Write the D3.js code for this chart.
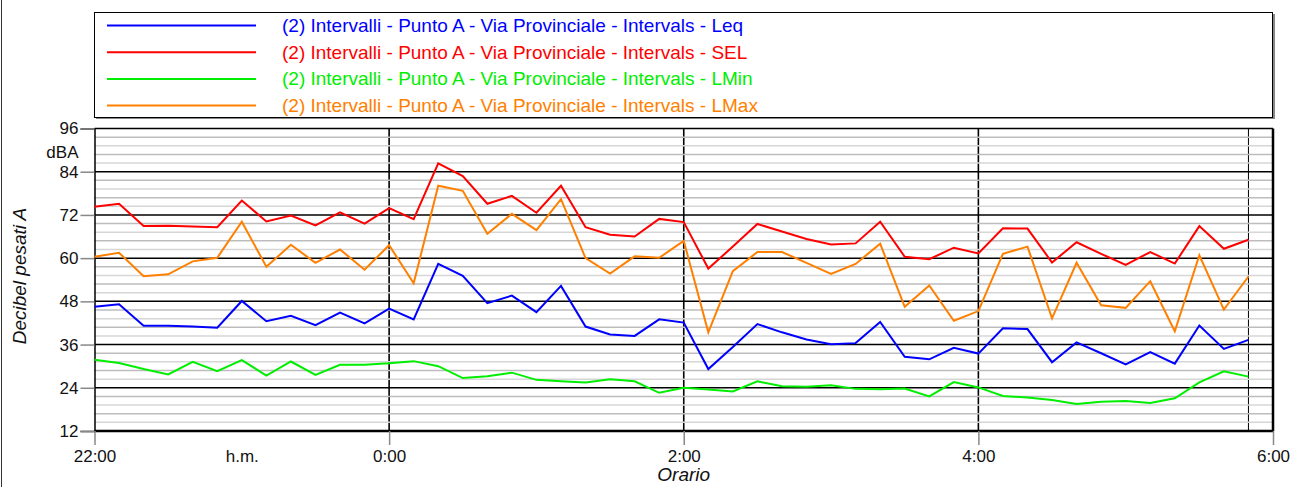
<!DOCTYPE html>
<html>
<head>
<meta charset="utf-8">
<script src="https://cdn.jsdelivr.net/npm/d3@7"></script>
<style>
  body { margin: 0; background: #fff; }
  svg { display: block; font-family: "Liberation Sans", Arial, sans-serif; }
</style>
</head>
<body>
<svg id="chart" width="1292" height="487"></svg>
<script>
// 10-minute intervals from 22:00 to 5:50
var startTime = new Date(2020, 0, 1, 22, 0);
var endTime = new Date(2020, 0, 2, 6, 0);
var stepMinutes = 10;

var seriesNames = [
  '(2) Intervalli - Punto A - Via Provinciale - Intervals - Leq',
  '(2) Intervalli - Punto A - Via Provinciale - Intervals - SEL',
  '(2) Intervalli - Punto A - Via Provinciale - Intervals - LMin',
  '(2) Intervalli - Punto A - Via Provinciale - Intervals - LMax'
];
var seriesColors = ['#0000ff', '#ff0000', '#00ee00', '#ff8000'];

var leq = [46.5, 47.2, 41.2, 41.2, 41.0, 40.7, 48.1, 42.5, 44.0, 41.4, 44.9, 41.9,
  46.0, 43.0, 58.4, 55.1, 47.5, 49.6, 45.0, 52.3, 41.0, 38.8, 38.4, 43.0,
  42.1, 29.2, 35.3, 41.7, 39.4, 37.4, 36.1, 36.4, 42.3, 32.6, 31.9, 35.1,
  33.5, 40.5, 40.3, 31.1, 36.6, 33.6, 30.5, 33.9, 30.7, 41.3, 34.8, 37.3];
var sel = [74.3, 75.1, 68.9, 69.0, 68.8, 68.6, 76.0, 70.2, 71.8, 69.1, 72.7, 69.6,
  73.9, 70.8, 86.3, 82.8, 75.1, 77.3, 72.6, 80.1, 68.6, 66.5, 66.0, 70.9,
  70.0, 57.1, 63.2, 69.5, 67.4, 65.3, 63.8, 64.1, 70.1, 60.4, 59.7, 62.9,
  61.3, 68.3, 68.2, 58.8, 64.4, 61.2, 58.1, 61.7, 58.5, 68.9, 62.6, 65.1];
var lmin = [31.8, 30.9, 29.2, 27.7, 31.2, 28.6, 31.7, 27.4, 31.3, 27.6, 30.4, 30.4,
  30.8, 31.4, 30.0, 26.7, 27.2, 28.2, 26.2, 25.8, 25.5, 26.4, 25.8, 22.6,
  24.0, 23.5, 23.0, 25.8, 24.4, 24.3, 24.7, 23.7, 23.6, 23.8, 21.6, 25.6,
  24.1, 21.7, 21.3, 20.6, 19.5, 20.1, 20.3, 19.8, 21.1, 25.5, 28.6, 27.1];
var lmax = [60.4, 61.5, 55.0, 55.5, 59.1, 60.1, 70.1, 57.6, 63.7, 58.7, 62.4, 56.8,
  63.6, 53.0, 80.1, 78.7, 66.8, 72.3, 67.8, 76.4, 60.0, 55.7, 60.5, 60.1,
  64.8, 39.4, 56.4, 61.7, 61.7, 58.7, 55.6, 58.4, 64.0, 46.5, 52.4, 42.6,
  45.3, 61.2, 63.2, 43.3, 58.7, 46.9, 46.2, 53.6, 39.7, 60.8, 45.7, 54.9];

var yMajorTicks = [12, 24, 36, 48, 60, 72, 84, 96];
var xLabelTimes = ['22:00', 'h.m.', '0:00', '2:00', '4:00', '6:00'];
var xLabelHours = [0, 1, 2, 4, 6, 8]; // hours after 22:00
var xGridHours = [2, 4, 6];

var svg = d3.select('#chart');
var margin = { top: 128.5, right: 19, bottom: 56, left: 94.5 };
var width = 1292 - margin.left - margin.right;
var height = 487 - margin.top - margin.bottom;

var x = d3.scaleTime().domain([startTime, endTime]).range([0, width]);
var y = d3.scaleLinear().domain([12, 96]).range([height, 0]);

function hourDate(h) { return new Date(startTime.getTime() + h * 3600000); }
function pointDate(i) { return new Date(startTime.getTime() + i * stepMinutes * 60000); }

// outer left frame line
svg.append('line').attr('x1', 1.5).attr('x2', 1.5).attr('y1', 0).attr('y2', 487)
  .style('stroke', '#333').style('stroke-width', 1);

// legend
var legend = svg.append('g');
legend.append('rect').attr('x', 96).attr('y', 14).attr('width', 1179).attr('height', 105)
  .style('fill', '#888');
legend.append('rect').attr('x', 94.5).attr('y', 12.5).attr('width', 1178).attr('height', 105)
  .style('fill', '#fff').style('stroke', '#000').style('stroke-width', 1);
seriesNames.forEach(function (name, i) {
  var ly = 25.5 + i * 26.7;
  legend.append('line').attr('x1', 107).attr('x2', 256).attr('y1', ly).attr('y2', ly)
    .style('stroke', seriesColors[i]).style('stroke-width', 2);
  legend.append('text').attr('x', 282).attr('y', ly + 6.5).text(name)
    .style('fill', seriesColors[i]).style('font-size', '19px');
});

var g = svg.append('g').attr('transform', 'translate(' + margin.left + ',' + margin.top + ')');

// vertical grid lines (under minor grid)
g.selectAll('.vgrid').data(xGridHours).enter().append('line')
  .attr('x1', d => x(hourDate(d))).attr('x2', d => x(hourDate(d)))
  .attr('y1', 0).attr('y2', height)
  .style('stroke', '#000').style('stroke-width', 1.6);

// last sample line
var lastIdx = leq.length - 1;
g.append('line').attr('x1', x(pointDate(lastIdx))).attr('x2', x(pointDate(lastIdx)))
  .attr('y1', 0).attr('y2', height).style('stroke', '#000').style('stroke-width', 1);

// minor grid every 2.4 dB
var minor = d3.range(12, 96.01, 2.4).filter(v => yMajorTicks.indexOf(Math.round(v * 10) / 10) < 0);
g.selectAll('.minor').data(minor).enter().append('line')
  .attr('x1', 0).attr('x2', width).attr('y1', d => y(d)).attr('y2', d => y(d))
  .style('stroke', (d, i) => i % 2 ? '#bdbdbd' : '#d6d6d6').style('stroke-width', 1.5);

// major grid
g.selectAll('.major').data(yMajorTicks).enter().append('line')
  .attr('x1', 0).attr('x2', width).attr('y1', d => y(d)).attr('y2', d => y(d))
  .style('stroke', '#000').style('stroke-width', d => d == 12 ? 2.5 : 1.5);

// left axis
var yAxis = g.append('g').call(d3.axisLeft(y).tickValues(yMajorTicks).tickSize(14).tickPadding(2));
yAxis.select('.domain').style('stroke', '#000').style('stroke-width', 1.5);
yAxis.selectAll('.tick line').style('stroke', '#888').style('stroke-width', 1.5);
yAxis.selectAll('.tick text').style('font-size', '17px').style('fill', '#111')
  .style('font-family', '"Liberation Sans", Arial, sans-serif');
g.append('text').attr('x', -16).attr('y', y(96) + 29).attr('text-anchor', 'end')
  .style('font-size', '17px').style('fill', '#111').text('dBA');

// right border
g.append('line').attr('x1', width).attr('x2', width).attr('y1', 0).attr('y2', height)
  .style('stroke', '#000').style('stroke-width', 2.5);

// bottom axis
var xAxis = g.append('g').attr('transform', 'translate(0,' + height + ')')
  .call(d3.axisBottom(x).tickValues(xLabelHours.map(hourDate)).tickSize(14).tickPadding(5)
    .tickFormat((d, i) => xLabelTimes[i]));
xAxis.select('.domain').remove();
xAxis.selectAll('.tick line').style('stroke', '#888').style('stroke-width', 1.5)
  .style('opacity', (d, i) => i == 1 ? 0 : 1);
xAxis.selectAll('.tick text').style('font-size', '17px').style('fill', '#111')
  .style('font-family', '"Liberation Sans", Arial, sans-serif');

// series lines
var line = d3.line().x((d, i) => x(pointDate(i))).y(d => y(d));
[leq, sel, lmin, lmax].forEach(function (data, i) {
  g.append('path').datum(data).attr('d', line)
    .style('fill', 'none').style('stroke', seriesColors[i]).style('stroke-width', 2);
});

// axis titles
svg.append('text').attr('transform', 'translate(26,' + 276 + ') rotate(-90)')
  .attr('text-anchor', 'middle').style('font-size', '19px').style('font-style', 'italic')
  .style('fill', '#111').text('Decibel pesati A');
svg.append('text').attr('x', margin.left + x(hourDate(4))).attr('y', 481)
  .attr('text-anchor', 'middle').style('font-size', '19px').style('font-style', 'italic')
  .style('fill', '#111').text('Orario');
</script>
</body>
</html>
